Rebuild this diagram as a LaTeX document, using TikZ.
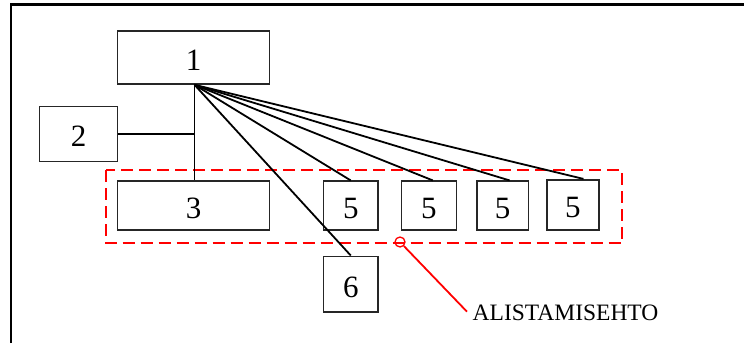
\documentclass[tikz,border=0pt]{standalone}
\usepackage{fontspec}
\setmainfont{Liberation Serif}
\usetikzlibrary{calc}
\definecolor{dashred}{RGB}{255,0,0}
\tikzset{
  boxnode/.style={draw=black!85, line width=1.6pt, rectangle, inner sep=0pt,
    font=\fontsize{31}{36}\selectfont, text height=26pt, text depth=0pt},
  link/.style={draw=black, line width=1.8pt},
  frameline/.style={draw=black, line width=2.6pt},
  groupbox/.style={draw=dashred, line width=2.2pt, dash pattern=on 12pt off 6pt},
  callout/.style={draw=dashred, line width=1.8pt},
}
\begin{document}
\begin{tikzpicture}[x=1pt, y=-1pt]
\useasboundingbox (0,0) rectangle (744,343);
% outer frame (only top and left visible)
\draw[frameline] (11,343) -- (11,4.5) -- (744,4.5);
% dashed group
\draw[groupbox] (105.8,170) rectangle (621.9,243.3);
% boxes
\node[boxnode, minimum width=152pt, minimum height=53pt] (b1) at (193.5,57.5) {1};
\node[boxnode, minimum width=78pt, minimum height=55pt] (b2) at (78.5,133.8) {2};
\node[boxnode, minimum width=152pt, minimum height=48.5pt] (b3) at (193.5,205.5) {3};
\node[boxnode, minimum width=54.5pt, minimum height=48.5pt] (b5a) at (350.75,205.5) {5};
\node[boxnode, minimum width=55pt, minimum height=48.5pt] (b5b) at (428.85,205.5) {5};
\node[boxnode, minimum width=51.7pt, minimum height=48.5pt] (b5c) at (502.65,205.5) {5};
\node[boxnode, minimum width=51.7pt, minimum height=50pt] (b5d) at (572.85,204.7) {5};
\node[boxnode, minimum width=54.5pt, minimum height=55.4pt] (b6) at (350.75,284) {6};
% hub point under box 1
\coordinate (hub) at ([xshift=1pt]b1.south);
% connectors
\draw[link] (hub) -- (hub |- b3.north);
\draw[link] (b2.east) -- (b2.east -| hub);
\draw[link] (hub) -- (b5a.north);
\draw[link] (hub) -- ([xshift=4pt]b5b.north);
\draw[link] (hub) -- ([xshift=7pt]b5c.north);
\draw[link] (hub) -- ([xshift=10.6pt]b5d.north);
\draw[link] (hub) -- (b6.north);
% callout
\node[callout, circle, minimum size=10pt, inner sep=0pt, line width=1.3pt] (circ) at (400,242) {};
\node[anchor=base west, inner sep=0pt, font=\fontsize{23.5}{28}\selectfont] (lbl) at (472.5,320) {ALISTAMISEHTO};
\coordinate (lend) at (467,311.7);
\draw[callout] (circ) -- (lend);
\end{tikzpicture}
\end{document}
